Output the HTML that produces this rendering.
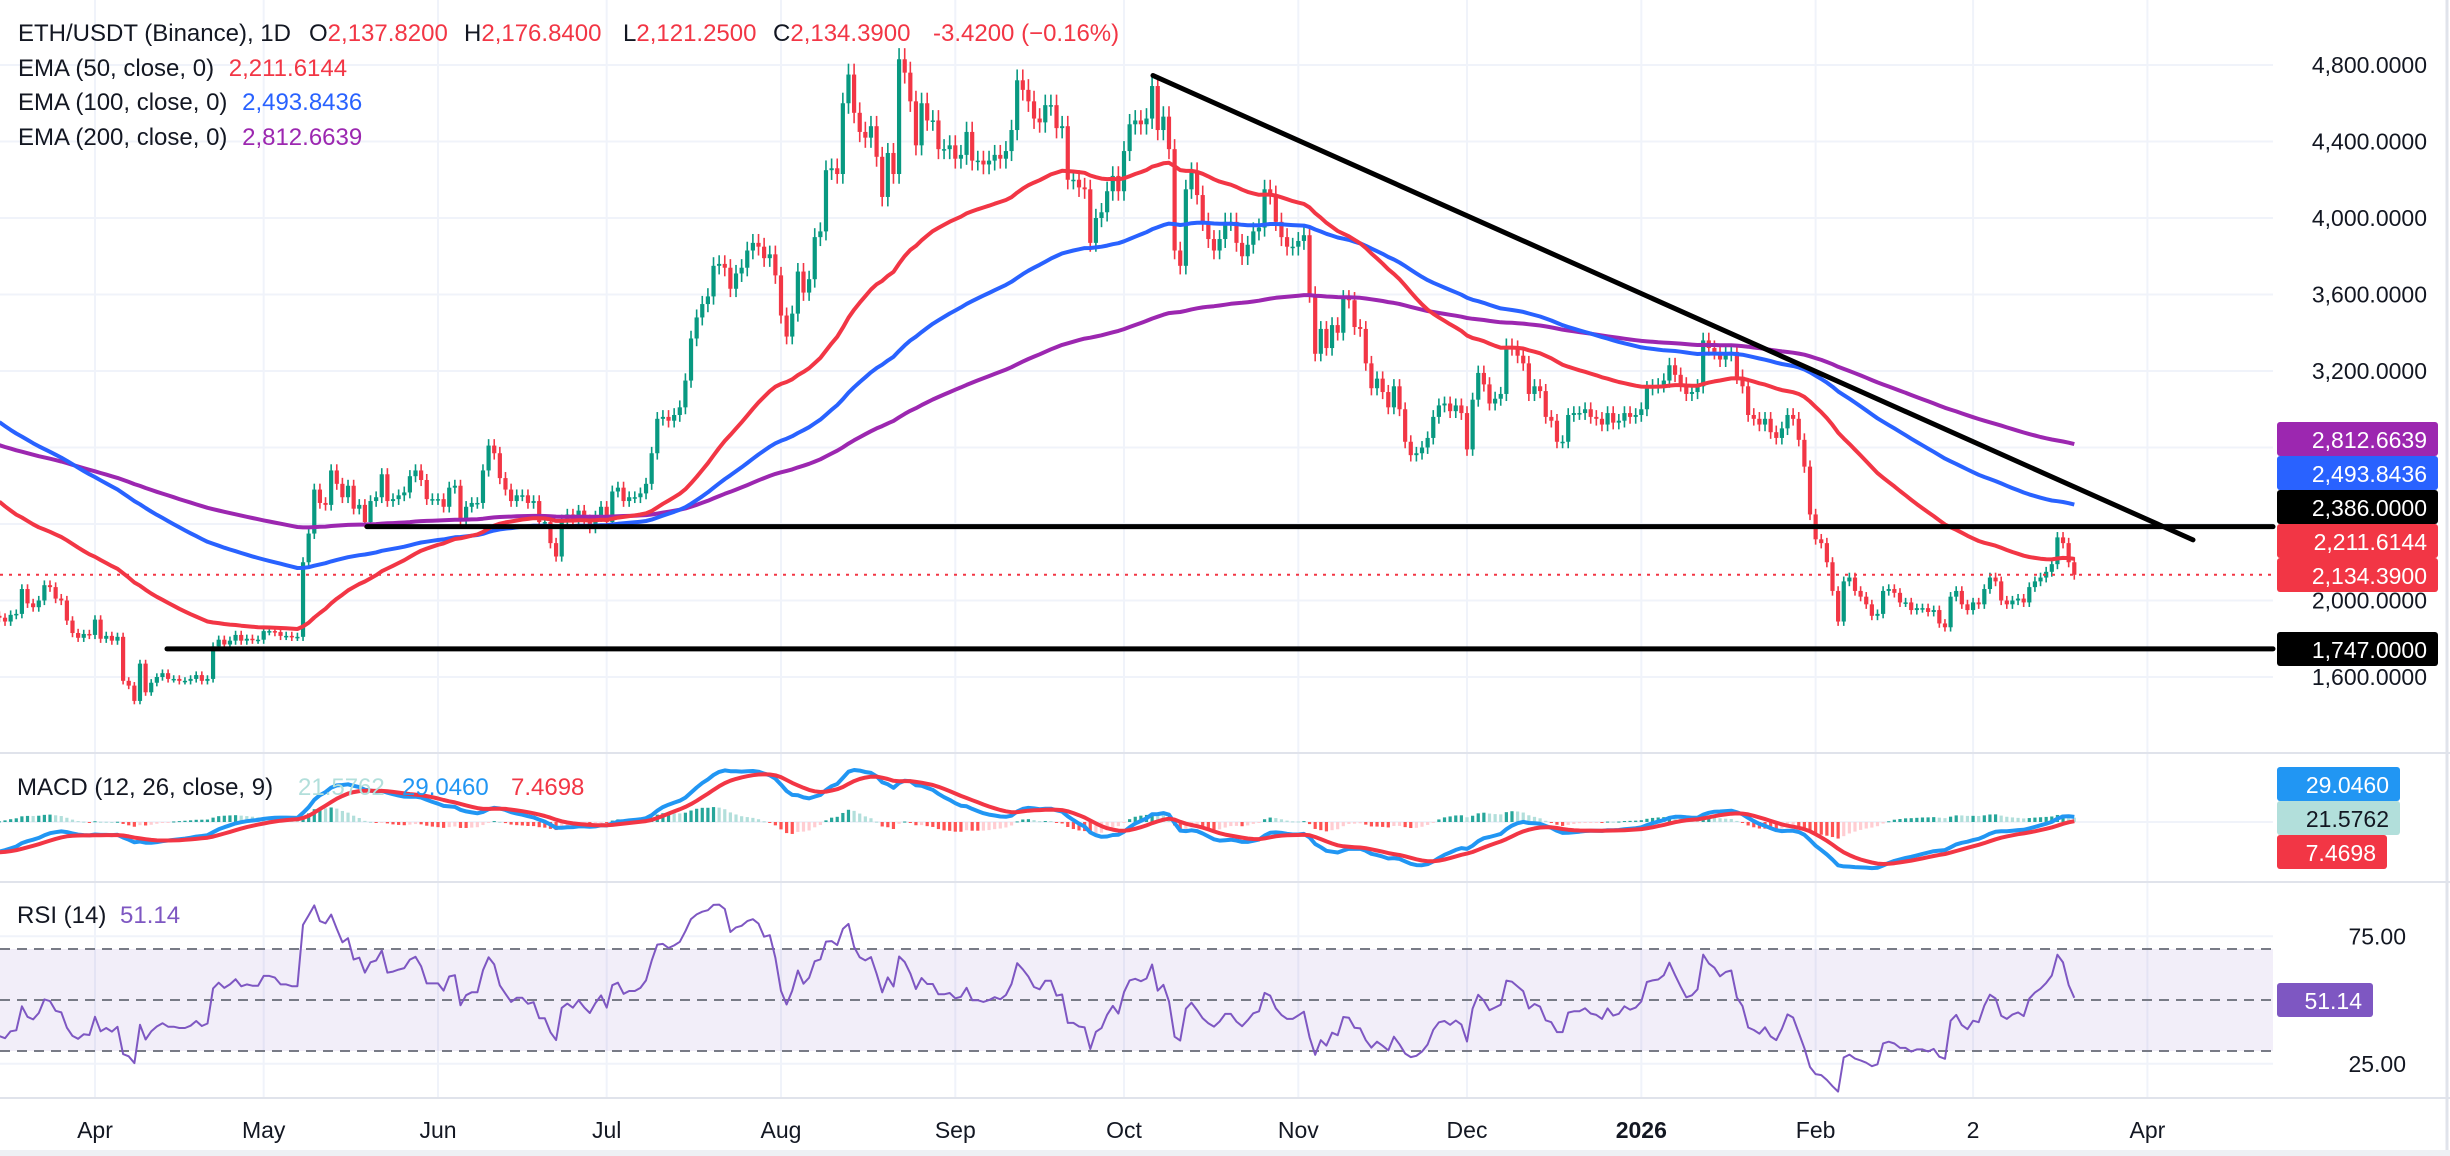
<!DOCTYPE html>
<html><head><meta charset="utf-8"><style>
html,body{margin:0;padding:0;background:#fff;}
svg{display:block;font-family:"Liberation Sans",sans-serif;}
</style></head><body>
<svg id="chart" width="2450" height="1156" viewBox="0 0 2450 1156" xmlns="http://www.w3.org/2000/svg">
<rect width="2450" height="1156" fill="#ffffff"/>
<g id="grid"></g>
<g id="rsiBand"></g>
<g id="candles"></g>
<g id="lines"></g>
<g id="draw"></g>
<g id="axes"></g>
<g id="legend" font-size="24" fill="#131722">
<text x="18" y="41">ETH/USDT (Binance), 1D</text>
<text x="309" y="41">O<tspan fill="#f23645">2,137.8200</tspan></text>
<text x="464" y="41">H<tspan fill="#f23645">2,176.8400</tspan></text>
<text x="623" y="41">L<tspan fill="#f23645">2,121.2500</tspan></text>
<text x="773" y="41">C<tspan fill="#f23645">2,134.3900</tspan></text>
<text x="933" y="41" fill="#f23645">-3.4200 (−0.16%)</text>
<text x="18" y="76">EMA (50, close, 0) <tspan dx="8" fill="#f23645">2,211.6144</tspan></text>
<text x="18" y="110">EMA (100, close, 0) <tspan dx="8" fill="#2962ff">2,493.8436</tspan></text>
<text x="18" y="145">EMA (200, close, 0) <tspan dx="8" fill="#9c27b0">2,812.6639</tspan></text>
<text x="17" y="795">MACD (12, 26, close, 9) <tspan x="298" fill="#b2dfdb">21.5762</tspan><tspan x="402" fill="#2196f3">29.0460</tspan><tspan x="511" fill="#f23645">7.4698</tspan></text>
<text x="17" y="923">RSI (14) <tspan x="120" fill="#7e57c2">51.14</tspan></text>
</g>
</svg>
<script>
// ---- data (daily closes, Mar 15 2025 .. Mar 19 2026) ----
const closesMar25=[1910,1890,1925,1930,2060,1985,1965,2000,2080,2070,2010,2000,1895,1830,1805,1825,1820];
const closesApr25=[1900,1800,1815,1790,1810,1580,1555,1475,1670,1520,1570,1600,1620,1590,1590,1580,1580,1590,1610,1580,1590,1760,1795,1770,1790,1820,1790,1800,1795,1795];
const closesMay25=[1840,1840,1835,1815,1815,1810,1810,2200,2350,2580,2510,2500,2680,2610,2540,2600,2480,2500,2410,2520,2540,2660,2520,2530,2550,2565,2650,2680,2630,2530,2530];
const closesJun25=[2530,2490,2590,2600,2420,2490,2510,2510,2680,2810,2770,2640,2580,2520,2550,2550,2510,2520,2410,2410,2300,2230,2420,2450,2420,2470,2420,2380,2440,2490];
const closesJul25=[2410,2570,2590,2520,2540,2540,2560,2610,2770,2950,2960,2940,2970,3010,3150,3370,3480,3550,3590,3750,3760,3740,3630,3710,3740,3830,3870,3850,3790,3810,3700];
const closesAug25=[3490,3380,3500,3720,3610,3680,3900,3930,4250,4260,4230,4600,4750,4550,4450,4420,4480,4320,4110,4340,4230,4830,4760,4610,4380,4600,4510,4510,4360,4360,4380];
const closesSep25=[4310,4330,4450,4300,4300,4280,4300,4330,4310,4350,4460,4720,4670,4610,4520,4500,4590,4590,4470,4480,4200,4200,4160,4150,3870,4000,4030,4140,4220,4140];
const closesOct25=[4350,4490,4510,4490,4520,4690,4460,4530,4360,3830,3750,4150,4240,4120,3980,3890,3830,3890,3980,3980,3870,3800,3860,3930,3950,4150,4120,3980,3900,3850,3850];
const closesNov25=[3880,3910,3600,3290,3420,3320,3440,3400,3580,3570,3430,3420,3240,3110,3160,3090,3010,3120,3000,2830,2760,2770,2800,2850,2960,3020,3030,2990,3020,2980];
const closesDec25=[2790,3050,3190,3130,3030,3055,3080,3330,3320,3280,3240,3080,3120,3095,2960,2940,2830,2830,2970,2980,2980,3000,2960,2950,2920,2980,2930,2940,2980,2960,2970];
const closesJan26=[3000,3110,3120,3125,3150,3230,3180,3130,3080,3090,3120,3360,3320,3300,3260,3290,3300,3170,3120,2970,2950,2920,2950,2880,2850,2900,2970,2950,2840,2700,2450];
const closesFeb26=[2320,2300,2200,2050,1890,2100,2120,2050,2020,1980,1920,1930,2050,2060,2040,1990,1990,1950,1960,1960,1940,1950,1880,1860,2020,2050,1980,1950];
const closesMar26=[1990,1980,2060,2120,2100,2000,1980,2000,2010,1990,2070,2100,2120,2150,2190,2330,2300,2200,2134.39];
const firstOpen=1920;
const priceTicks=[4800,4400,4000,3600,3200,2800,2400,2000,1600];
const monthLabels=['Apr','May','Jun','Jul','Aug','Sep','Oct','Nov','Dec','2026','Feb','2','Apr'];
const monthDayIndex=[17,47,78,108,139,170,200,231,261,292,323,351,382];
const emaSeeds=[2542,2953,2821];
const macdSeeds=[1960,2150,-185];
const rsiSeeds=[25,44];
const hLevels=[2386,1747];
const trendPrices=[4745,2317];
const rsiTicks=[75,25];
const rsiBands=[70,50,30];

const closes=[].concat(closesMar25,closesApr25,closesMay25,closesJun25,closesJul25,closesAug25,closesSep25,closesOct25,closesNov25,closesDec25,closesJan26,closesFeb26,closesMar26);
const N=closes.length;
const NS='http://www.w3.org/2000/svg';
function mk(tag,attrs,parent){const e=document.createElementNS(NS,tag);for(const k in attrs)e.setAttribute(k,attrs[k]);parent.appendChild(e);return e;}
const X=i=>-0.6+5.623*i;
const Y=p=>677-(p-1600)*0.19125;
const RY=r=>1000-(r-50)*2.55;
const PLOT_R=2273;
const grid=document.getElementById('grid');
const axes=document.getElementById('axes');

monthDayIndex.forEach((d,k)=>{
  const l=mk('line',{x1:X(d),x2:X(d),y1:0,y2:1098,stroke:'#f0f3fa','stroke-width':2},grid);
  
  
  const t=mk('text',{x:X(d),y:1138,'text-anchor':'middle','font-size':23,fill:'#131722','font-weight':monthLabels[k]==='2026'?'bold':'normal'},axes);
  t.textContent=monthLabels[k];
  
  
});
priceTicks.forEach(p=>{
  const l=mk('line',{x1:0,x2:PLOT_R,y1:Y(p),y2:Y(p),stroke:'#f0f3fa','stroke-width':2},grid);
  
  
  const t=mk('text',{x:2427,y:Y(p)+8,'text-anchor':'end','font-size':23,fill:'#131722'},axes);
  t.textContent=p.toLocaleString('en-US',{minimumFractionDigits:4});
  
  
});
[822].forEach(y=>{const l=mk('line',{x1:0,x2:PLOT_R,y1:y,y2:y,stroke:'#f0f3fa','stroke-width':2},grid);});
rsiTicks.forEach(r=>{
  const l=mk('line',{x1:0,x2:PLOT_R,y1:RY(r),y2:RY(r),stroke:'#f0f3fa','stroke-width':2},grid);
  
  
  const t=mk('text',{x:2406,y:RY(r)+8,'text-anchor':'end','font-size':23,fill:'#131722'},axes);
  t.textContent=r.toFixed(2);
  
  
});
[753,882,1098].forEach(y=>{const l=mk('line',{x1:0,x2:2450,y1:y,y2:y,stroke:'#e0e3eb','stroke-width':2},grid);});
{const l=mk('line',{x1:2447,x2:2447,y1:0,y2:1156,stroke:'#e0e3eb','stroke-width':3},grid);}
{const r=mk('rect',{x:0,y:1150,width:2450,height:6,fill:'#eef0f4'},grid);}

const band=document.getElementById('rsiBand');
{const r=mk('rect',{x:0,y:RY(rsiBands[0]),width:PLOT_R,height:RY(rsiBands[2])-RY(rsiBands[0]),fill:'rgba(126,87,194,0.1)'},band);}
rsiBands.forEach(r=>{const l=mk('line',{x1:0,x2:PLOT_R,y1:RY(r),y2:RY(r),stroke:'#787b86','stroke-width':2,'stroke-dasharray':'10 7'},band);});

const cg=document.getElementById('candles');
for(let i=0;i<N;i++){
  const o=i?closes[i-1]:firstOpen, c=closes[i];
  const up=c>=o, col=up?'#089981':'#f23645';
  const hi=Math.max(o,c)*1.012, lo=Math.min(o,c)*0.988;
  const g=mk('g',{},cg);
  
  
  mk('line',{x1:X(i),x2:X(i),y1:Y(hi),y2:Y(lo),stroke:col,'stroke-width':1.6},g);
  const top=Y(Math.max(o,c)),h=Math.max(1.5,Math.abs(Y(o)-Y(c)));
  mk('rect',{x:X(i)-2.1,y:top,width:4.2,height:h,fill:col},g);
}

function ema(seed,n){const a=2/(n+1);let v=seed;return closes.map(c=>v=v+a*(c-v));}
const e50=ema(emaSeeds[0],50),e100=ema(emaSeeds[1],100),e200=ema(emaSeeds[2],200);
const e12=ema(macdSeeds[0],12),e26=ema(macdSeeds[1],26);
const macd=e12.map((v,i)=>v-e26[i]);
let sg=macdSeeds[2];const sig=macd.map(m=>sg=sg+0.2*(m-sg));
const hist=macd.map((m,i)=>m-sig[i]);
let ag=rsiSeeds[0],al=rsiSeeds[1];
const rsi=closes.map((c,i)=>{const p=i?closes[i-1]:firstOpen;const d=c-p;ag=(ag*13+Math.max(d,0))/14;al=(al*13+Math.max(-d,0))/14;return 100-100/(1+ag/al);});
const lg=document.getElementById('lines');
function poly(arr,yf,col,w,name){const p=mk('polyline',{points:arr.map((v,i)=>X(i).toFixed(1)+','+yf(v).toFixed(1)).join(' '),fill:'none',stroke:col,'stroke-width':w,'stroke-linejoin':'round'},lg);return p;}
poly(e200,Y,'#9c27b0',4,'ema200-line');
poly(e100,Y,'#2962ff',4,'ema100-line');
poly(e50,Y,'#f23645',4,'ema50-line');
let mmax=0;macd.concat(sig).forEach(v=>mmax=Math.max(mmax,Math.abs(v)));
const ms=52/mmax, MY=v=>822-v*ms;
hist.forEach((h,i)=>{
  const prev=i?hist[i-1]:h;
  const col=h>=0?(h>=prev?'#26a69a':'#b2dfdb'):(h<prev?'#ff5252':'#ffcdd2');
  const r=mk('rect',{x:X(i)-1.6,y:Math.min(822,MY(h)),width:3.2,height:Math.max(1,Math.abs(h*ms)),fill:col},lg);
  
  
});
poly(macd,MY,'#2196f3',4,'macd-line');
poly(sig,MY,'#f23645',4,'signal-line');
poly(rsi,RY,'#7e57c2',2,'rsi-line');

const dg=document.getElementById('draw');
{const l=mk('line',{x1:0,x2:PLOT_R,y1:Y(closes[N-1]),y2:Y(closes[N-1]),stroke:'#f23645','stroke-width':2,'stroke-dasharray':'3 6'},dg);}
[[367,hLevels[0]],[167,hLevels[1]]].forEach(([x0,p])=>{const l=mk('line',{x1:x0,x2:PLOT_R,y1:Y(p),y2:Y(p),stroke:'#000','stroke-width':5,'stroke-linecap':'round'},dg);});
{const l=mk('line',{x1:1153,y1:Y(trendPrices[0]),x2:2193,y2:Y(trendPrices[1]),stroke:'#000','stroke-width':5,'stroke-linecap':'round'},dg);}

function box(y,w,bg,fg,txt,name){const g=mk('g',{},axes);mk('rect',{x:2277,y:y,width:w,height:34,rx:3,fill:bg},g);const t=mk('text',{x:2277+w-11,y:y+26,'text-anchor':'end','font-size':23,fill:fg},g);t.textContent=txt;}
box(422,161,'#9c27b0','#fff','2,812.6639','ema200-price-label');
box(456,161,'#2962ff','#fff','2,493.8436','ema100-price-label');
box(490,161,'#000000','#fff','2,386.0000','level-2386-label');
box(524,161,'#f23645','#fff','2,211.6144','ema50-price-label');
box(558,161,'#f23645','#fff','2,134.3900','last-price-label');
box(632,161,'#000000','#fff','1,747.0000','level-1747-label');
box(767,123,'#2196f3','#fff','29.0460','macd-value-label');
box(801,123,'#b2dfdb','#131722','21.5762','histogram-value-label');
box(835,110,'#f23645','#fff','7.4698','signal-value-label');
box(983,96,'#7e57c2','#fff','51.14','rsi-value-label');
</script>
</body></html>
